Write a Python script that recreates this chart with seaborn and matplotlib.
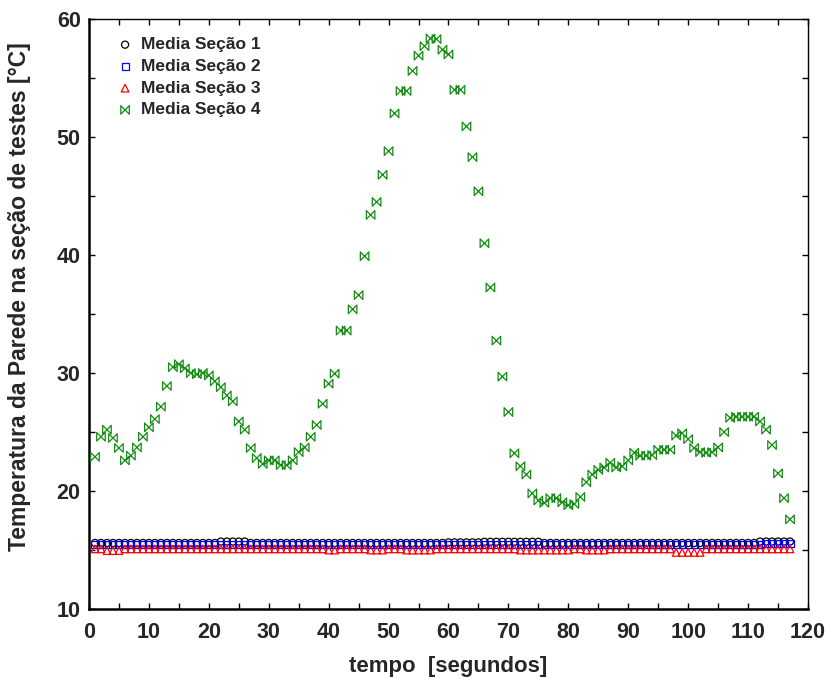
import numpy as np
import pandas as pd
import seaborn as sns
import matplotlib.pyplot as plt
from matplotlib.path import Path
from matplotlib.ticker import MultipleLocator

# tempo (s)
tempo = list(range(1, 118))

# Media Seção 1 (círculos)
secao1 = [15.6] * 21 + [15.72] * 5 + [15.6] * 33 + [15.65] * 6 + [15.7] * 10 + \
         [15.6] * 36 + [15.72] * 6

# Media Seção 2 (quadrados)
secao2 = [15.45] * 52 + [15.48] * 60 + [15.55] * 5

# Media Seção 3 (triângulos)
secao3 = [15.1, 15.1, 14.95, 14.95, 14.95] + [15.1] * 34 + [15.0, 15.0] + \
         [15.1] * 5 + [15.0] * 3 + [15.1] * 3 + [15.0] * 5 + [15.1] * 14 + \
         [15.0] * 9 + [15.1, 15.1] + [15.0] * 4 + [15.1] * 11 + [14.8] * 5 + \
         [15.1] * 15

# Media Seção 4 (gravata)
secao4 = [22.9, 24.6, 25.2, 24.5, 23.65, 22.6, 23.0, 23.7, 24.6, 25.4,
          26.1, 27.15, 28.9, 30.5, 30.75, 30.4, 30.0, 29.9, 30.0, 29.8,
          29.3, 28.8, 28.1, 27.6, 25.9, 25.2, 23.65, 22.8, 22.3, 22.6,
          22.6, 22.2, 22.2, 22.6, 23.3, 23.7, 24.6, 25.6, 27.4, 29.1,
          29.95, 33.6, 33.6, 35.4, 36.6, 39.9, 43.4, 44.5, 46.8, 48.8,
          52.0, 53.9, 53.9, 55.6, 56.9, 57.7, 58.35, 58.3, 57.4, 57.0,
          54.0, 54.0, 50.9, 48.3, 45.4, 41.0, 37.25, 32.75, 29.7, 26.7,
          23.2, 22.1, 21.4, 19.8, 19.2, 19.0, 19.4, 19.4, 19.05, 18.8,
          18.9, 19.5, 20.75, 21.4, 21.8, 22.0, 22.4, 22.0, 22.1, 22.6,
          23.25, 23.0, 23.0, 23.05, 23.5, 23.5, 23.5, 24.7, 24.9, 24.4,
          23.65, 23.3, 23.25, 23.3, 23.7, 25.0, 26.2, 26.3, 26.3, 26.3,
          26.3, 25.9, 25.2, 23.9, 21.5, 19.4, 17.6]

rotulos = ['Media Seção 1', 'Media Seção 2', 'Media Seção 3', 'Media Seção 4']

sns.set_style('ticks')
plt.rcParams['font.family'] = ['Liberation Sans', 'DejaVu Sans']
plt.rcParams['font.weight'] = 'bold'

# marcador "gravata" (⋈)
gravata = Path([(-1, 1), (-1, -1), (1, 1), (1, -1), (-1, 1)],
               [Path.MOVETO, Path.LINETO, Path.LINETO, Path.LINETO, Path.CLOSEPOLY])

fig = plt.figure(figsize=(8.27, 6.79), dpi=100)
ax = fig.add_axes([0.1076, 0.103, 0.8694, 0.869])

estilos = [
    (secao1, 'o', 'black', 26),
    (secao2, 's', 'blue', 26),
    (secao3, '^', 'red', 30),
    (secao4, gravata, '#148c14', 38),
]
for (serie, marc, cor, tam), rot in zip(estilos, rotulos):
    sns.scatterplot(x=tempo, y=serie, marker=marc, s=tam, facecolor='none',
                    edgecolor=cor, linewidth=0.9, label=rot, ax=ax, zorder=3)

ax.set_xlim(0, 120)
ax.set_ylim(10, 60)
ax.xaxis.set_major_locator(MultipleLocator(10))
ax.xaxis.set_minor_locator(MultipleLocator(5))
ax.yaxis.set_major_locator(MultipleLocator(10))
ax.yaxis.set_minor_locator(MultipleLocator(5))
ax.tick_params(which='both', direction='in', top=True, right=True,
               length=4, width=1, color='black')
ax.tick_params(axis='x', which='major', labelsize=15.5, pad=9)
ax.tick_params(axis='y', which='major', labelsize=15.5, pad=6)
for lab in ax.get_xticklabels() + ax.get_yticklabels():
    lab.set_fontweight('bold')

for lado in ['left', 'bottom']:
    ax.spines[lado].set_linewidth(1.8)
for lado in ['top', 'right']:
    ax.spines[lado].set_linewidth(1.0)
for sp in ax.spines.values():
    sp.set_color('black')

ax.set_xlabel('tempo  [segundos]', fontsize=16, fontweight='bold', labelpad=10)
ax.set_ylabel('Temperatura da Parede na seção de testes [°C]', fontsize=16.5,
              fontweight='bold', labelpad=16)
ax.yaxis.set_label_coords(-0.08, 0.53)

ax.legend(loc='upper left', bbox_to_anchor=(0.02, 0.99), frameon=False,
          prop={'weight': 'bold', 'size': 12.5}, handletextpad=0.35,
          labelspacing=0.38, handlelength=1.1, borderaxespad=0.3)

fig.savefig('out.png', dpi=100)
